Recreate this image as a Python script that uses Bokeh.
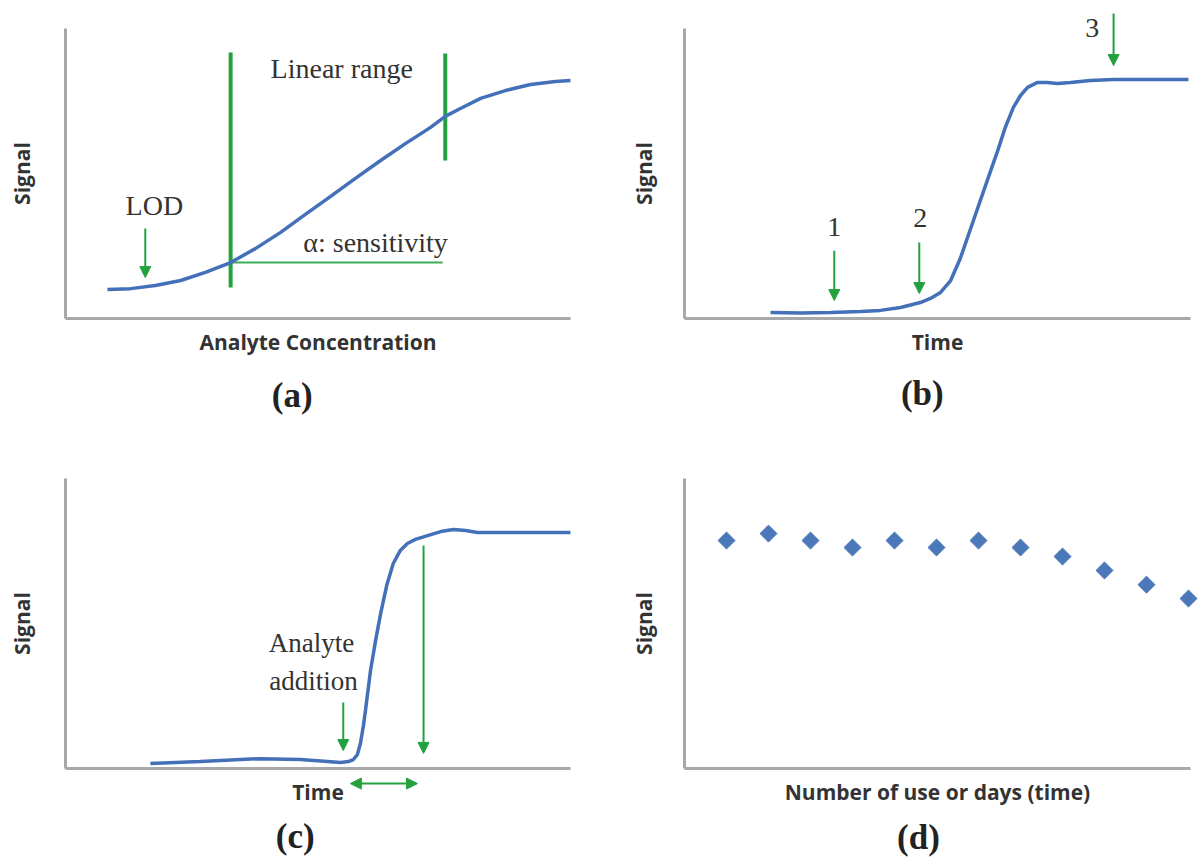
from bokeh.plotting import figure
from bokeh.models import Range1d, FixedTicker, Arrow, NormalHead, ColumnDataSource
from bokeh.layouts import column, row
from bokeh.embed import file_html
from bokeh.resources import INLINE
from bokeh.core.properties import value

# ---------------- data (arbitrary units, 0-100 on both axes) ----------------
# (a) calibration curve
conc_a = [8.3, 12.9, 17.8, 22.8, 27.7, 32.7, 37.6, 42.6, 47.5, 52.5, 57.4, 62.4,
          67.3, 72.3, 75.2, 78.2, 82.2, 87.1, 92.1, 97.0, 100.0]
signal_a = [10.0, 10.3, 11.4, 13.1, 15.9, 19.3, 24.1, 29.7, 35.9, 42.1, 48.3, 54.5,
            60.3, 65.9, 69.7, 72.4, 75.9, 78.6, 80.7, 81.7, 82.1]
linear_lo, linear_hi = 32.7, 75.2          # linear range limits (x)
linear_lo_y = [10.7, 91.7]                 # extent of the left limit line
linear_hi_y = [54.5, 91.4]                 # extent of the right limit line
sens_x = [32.7, 74.7]
sens_y = [19.3, 19.3]
lod_x = 15.8
lod_arrow_y = [31.0, 14.1]
labels_a = ["Linear range", "LOD", "\u03b1: sensitivity"]
labels_a_x = [54.7, 17.6, 61.4]
labels_a_y = [86.2, 39.0, 26.2]

# (b) response time
time_b = [17.0, 22.9, 28.9, 34.8, 38.7, 42.7, 46.6, 48.6, 50.6, 52.6, 54.5, 57.1,
          59.5, 61.9, 63.4, 65.0, 66.4, 67.8, 69.8, 71.7, 73.7, 76.3, 80.2, 84.8,
          92.1, 99.6]
signal_b = [2.1, 1.9, 2.1, 2.4, 2.8, 3.8, 5.5, 6.9, 9.0, 13.1, 20.7, 33.8,
            45.9, 57.9, 65.9, 72.8, 76.9, 79.7, 81.4, 81.4, 81.0, 81.4, 82.1, 82.4,
            82.4, 82.4]
marks_b = ["1", "2", "3"]
marks_b_x = [29.6, 46.6, 80.6]
marks_b_y = [31.4, 34.8, 100.3]
arrows_b_x = [29.6, 46.4, 84.8]
arrows_b_y0 = [23.4, 26.2, 105.2]
arrows_b_y1 = [6.2, 8.6, 87.2]

# (c) analyte addition
time_c = [16.8, 26.7, 38.6, 46.5, 54.5, 56.0, 57.0, 57.8, 58.4, 59.0, 59.4, 60.4,
          61.4, 62.4, 63.6, 64.9, 66.3, 67.7, 69.3, 71.7, 74.3, 76.8, 79.2, 81.6,
          86.1, 100.0]
signal_c = [1.7, 2.4, 3.4, 3.1, 2.1, 2.4, 3.1, 4.8, 8.6, 14.8, 20.0, 33.8,
            44.1, 53.4, 63.1, 70.7, 75.2, 77.6, 79.0, 80.3, 81.7, 82.4, 82.1, 81.4,
            81.4, 81.4]
labels_c = ["Analyte", "addition"]
labels_c_x = [48.7, 49.1]
labels_c_y = [43.4, 30.3]
arrows_c_x = [55.0, 70.9]
arrows_c_y0 = [22.8, 76.9]
arrows_c_y1 = [6.2, 5.2]
span_c_x = [56.4, 69.7]
span_c_y = -5.2

# (d) stability
uses_d = [1, 2, 3, 4, 5, 6, 7, 8, 9, 10, 11, 12]
signal_d = [78.6, 81.0, 78.6, 76.2, 78.6, 76.2, 78.6, 76.2, 73.1, 68.3, 63.4, 58.6]

captions = ["(a)", "(b)", "(c)", "(d)"]

# ---------------- styles ----------------
BLUE = "#4370b9"
GREEN = "#22a23f"
AXIS = "#a8a8a8"
TXT = "#333333"
SERIF = "Liberation Serif"
SANS = "Open Sans"


def make_panel(width, height, xr, yr, xbounds, xlabel, ylab_standoff):
    p = figure(width=width, height=height, x_range=Range1d(*xr), y_range=Range1d(*yr),
               output_backend="svg", toolbar_location=None, min_border=0, title=None)
    p.outline_line_color = None
    p.grid.visible = False
    p.background_fill_color = "white"
    p.border_fill_color = "white"
    for ax, b, lab, so in ((p.xaxis[0], xbounds, xlabel, 9), (p.yaxis[0], (0, 100), "Signal", ylab_standoff)):
        ax.fixed_location = 0
        ax.bounds = b
        ax.ticker = FixedTicker(ticks=[])
        ax.major_tick_out = 0
        ax.major_tick_in = 0
        ax.minor_tick_out = 0
        ax.minor_tick_in = 0
        ax.major_label_text_font_size = "0px"
        ax.major_label_standoff = 0
        ax.axis_line_color = AXIS
        ax.axis_line_width = 3
        ax.axis_label = lab
        ax.axis_label_text_font = SANS
        ax.axis_label_text_font_style = "bold"
        ax.axis_label_text_font_size = "21px"
        ax.axis_label_text_color = TXT
        ax.axis_label_standoff = so
    return p


def add_arrows(p, xs0, ys0, xs1, ys1, width=2, head=11, both=False):
    src = ColumnDataSource(dict(x0=xs0, y0=ys0, x1=xs1, y1=ys1))
    end = NormalHead(size=head, fill_color=GREEN, line_color=GREEN, line_width=1)
    start = NormalHead(size=head, fill_color=GREEN, line_color=GREEN, line_width=1) if both else None
    p.add_layout(Arrow(end=end, start=start, x_start="x0", y_start="y0", x_end="x1", y_end="y1",
                       source=src, line_color=GREEN, line_width=width))


def caption(p, x, y, t):
    p.text(x=[x], y=[y], text=[t], text_font=value(SERIF), text_font_style="bold",
           text_font_size="35px", text_align="center", text_baseline="middle", text_color="#222222")


def serif_text(p, xs, ys, ts, size="28px"):
    p.text(x=xs, y=ys, text=ts, text_font=value(SERIF), text_font_size=size,
           text_align="center", text_baseline="middle", text_color=TXT)


PXU_L = 5.05   # px per x unit, left column
PXU_R = 5.06   # px per x unit, right column
PYU = 2.9      # px per y unit

# (a)
pa = make_panel(600, 450, (-65 / PXU_L, 535 / PXU_L), (-132 / PYU, 318 / PYU), (0, 100),
                "Analyte Concentration", 30)
pa.line(x=[linear_lo, linear_lo], y=linear_lo_y, line_color=GREEN, line_width=4)
pa.line(x=[linear_hi, linear_hi], y=linear_hi_y, line_color=GREEN, line_width=4)
pa.line(x=sens_x, y=sens_y, line_color="#3fae5a", line_width=2)
pa.line(x=conc_a, y=signal_a, line_color=BLUE, line_width=3.5)
add_arrows(pa, [lod_x], [lod_arrow_y[0]], [lod_x], [lod_arrow_y[1]])
serif_text(pa, labels_a_x, labels_a_y, labels_a)
caption(pa, 44.9, -26.6, captions[0])

# (b)
pb = make_panel(601, 450, (-84 / PXU_R, 517 / PXU_R), (-132 / PYU, 318 / PYU), (0, 100),
                "Time", 27)
pb.line(x=time_b, y=signal_b, line_color=BLUE, line_width=3.5)
add_arrows(pb, arrows_b_x, arrows_b_y0, arrows_b_x, arrows_b_y1)
serif_text(pb, marks_b_x, marks_b_y, marks_b)
caption(pb, 47.0, -25.9, captions[1])

# (c)
pc = make_panel(600, 411, (-65 / PXU_L, 535 / PXU_L), (-93 / PYU, 318 / PYU), (0, 100),
                "Time", 30)
pc.line(x=time_c, y=signal_c, line_color=BLUE, line_width=3.5)
add_arrows(pc, arrows_c_x, arrows_c_y0, arrows_c_x, arrows_c_y1)
add_arrows(pc, [span_c_x[0]], [span_c_y], [span_c_x[1]], [span_c_y], both=True)
serif_text(pc, labels_c_x, labels_c_y, labels_c, size="27px")
caption(pc, 45.5, -23.6, captions[2])

# (d)
PXD = 42.0
pd = make_panel(601, 411, (-84 / PXD, 517 / PXD), (-93 / PYU, 318 / PYU), (0, 506 / PXD),
                "Number of use or days (time)", 27)
pd.scatter(x=uses_d, y=signal_d, marker="square", angle=0.785398, size=12,
           fill_color="#4a78b8", line_color="#4a78b8")
caption(pd, (918 - 684) / PXD, -23.8, captions[3])

layout = column(row(pa, pb, spacing=0), row(pc, pd, spacing=0), spacing=0)
open("out.html", "w").write(file_html(layout, INLINE))
